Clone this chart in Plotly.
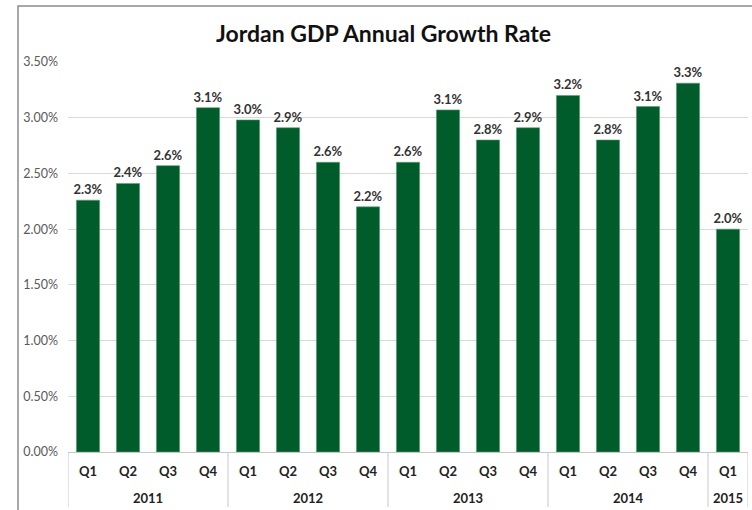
import plotly.graph_objects as go

years = ["2011"] * 4 + ["2012"] * 4 + ["2013"] * 4 + ["2014"] * 4 + ["2015"]
quarters = ["Q1", "Q2", "Q3", "Q4"] * 4 + ["Q1"]
growth = [0.0226, 0.0241, 0.0257, 0.0309, 0.0298, 0.0291, 0.0260, 0.0220,
          0.0260, 0.0307, 0.0280, 0.0291, 0.0320, 0.0280, 0.0310, 0.0331, 0.0200]
y_ticks = [0, 0.005, 0.01, 0.015, 0.02, 0.025, 0.03, 0.035]

cats = [f"{y} {q}" for y, q in zip(years, quarters)]

fig = go.Figure(go.Bar(
    x=cats,
    y=growth,
    marker=dict(color="#005c2b", line=dict(color="#5f9c72", width=0.6)),
    texttemplate="%{y:.1%}",
    textposition="outside",
    constraintext="none",
    textfont=dict(family="Lato", size=13, color="#333333", weight="bold"),
    cliponaxis=False,
))

# group boundaries from the year list
groups = []
start = 0
for i in range(1, len(years) + 1):
    if i == len(years) or years[i] != years[start]:
        groups.append((years[start], start, i - 1))
        start = i

annotations = []
for c, q in zip(cats, quarters):
    annotations.append(dict(x=c, xref="x", y=0, yref="paper", yshift=-19,
                            text=f"<b>{q}</b>", showarrow=False, yanchor="middle",
                            font=dict(family="Lato", size=13, color="#222222")))
shapes = []
for name, s, e in groups:
    annotations.append(dict(x=(s + e) / 2, xref="x", y=0, yref="paper", yshift=-46,
                            text=f"<b>{name}</b>", showarrow=False, yanchor="middle",
                            font=dict(family="Lato", size=13, color="#222222")))
    shapes.append(dict(type="line", xref="x", yref="paper", x0=s - 0.5, x1=s - 0.5,
                       y0=0, y1=-55 / 390, line=dict(color="#c8c8c8", width=1)))
shapes.append(dict(type="line", xref="x", yref="paper", x0=len(cats) - 0.5,
                   x1=len(cats) - 0.5, y0=0, y1=-55 / 390,
                   line=dict(color="#c8c8c8", width=1)))
# outer chart frame
shapes.append(dict(type="rect", xref="paper", yref="paper",
                   x0=(18 - 68) / 680, y0=-0.3, x1=1.05, y1=(452 - 6) / 390,
                   line=dict(color="#8c8c8c", width=1.5), layer="below"))

fig.update_layout(
    width=752, height=510,
    margin=dict(l=68, r=4, t=62, b=58),
    paper_bgcolor="white", plot_bgcolor="white",
    bargap=0.42,
    showlegend=False,
    title=dict(text="<b>Jordan GDP Annual Growth Rate</b>", x=0.51, xanchor="center",
               y=0.933, yanchor="middle",
               font=dict(family="Lato", size=23, color="#111111")),
    shapes=shapes,
    annotations=annotations,
)
fig.update_yaxes(range=[0, 0.035], tickvals=y_ticks, tickformat=".2%",
                 showgrid=True, gridcolor="#d9d9d9", gridwidth=1,
                 zeroline=False, showline=False, ticks="", automargin=False,
                 ticklabelstandoff=9,
                 tickfont=dict(family="Lato", size=12.5, color="#595959"))
fig.update_xaxes(type="category", showline=True, linecolor="#c8c8c8",
                 linewidth=1, ticks="", showticklabels=False, automargin=False,
                 range=[-0.5, len(cats) - 0.5])

fig.write_html("out.html", config={"displayModeBar": False},
               post_script="document.body.style.margin='0';")
